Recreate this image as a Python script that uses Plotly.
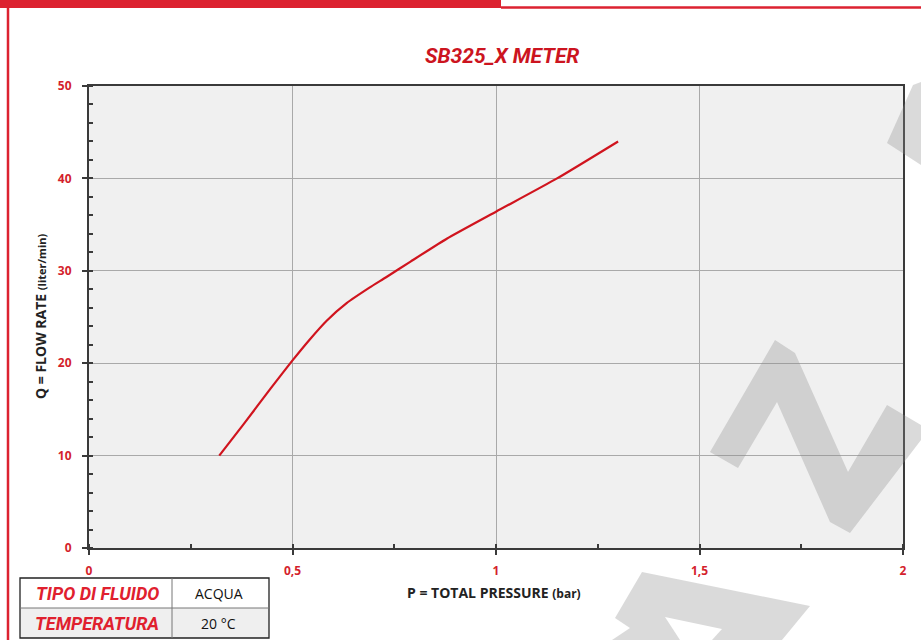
import plotly.graph_objects as go

# ---- data ----
pressure_bar = [0.32, 0.38, 0.445, 0.50, 0.543, 0.584, 0.633, 0.69, 0.73, 0.79, 0.88, 1.00, 1.15, 1.30]
flow_lpm = [10.0, 13.4, 17.2, 20.3, 22.6, 24.6, 26.5, 28.2, 29.3, 31.0, 33.5, 36.4, 40.0, 44.0]

x_tick_vals = [0, 0.5, 1, 1.5, 2]
x_tick_text = ["0", "0,5", "1", "1,5", "2"]
y_tick_vals = [0, 10, 20, 30, 40, 50]
y_tick_text = ["0", "10", "20", "30", "40", "50"]

table_labels = ["TIPO DI FLUIDO", "TEMPERATURA"]
table_values = ["ACQUA", "20 °C"]

W, H = 921, 640
L, R, T, B = 89, 903, 86, 548
RED = "#d41f2d"

def px(x):
    return (x - L) / (R - L)

def py(y):
    return (B - y) / (B - T)

fig = go.Figure()
fig.add_trace(go.Scatter(
    x=pressure_bar, y=flow_lpm, mode="lines",
    line=dict(color="#d0141e", width=2.2, shape="spline", smoothing=0.5),
    showlegend=False, hoverinfo="skip"))

axis_common = dict(showline=True, linecolor="#3a3a3a", linewidth=2, mirror=True,
                   showgrid=True, gridcolor="#a9a9a9", gridwidth=1, zeroline=False,
                   ticks="outside", ticklen=5, tickwidth=1.5, tickcolor="#3a3a3a",
                   tickfont=dict(family="Open Sans", size=12, color=RED, weight="bold"))

fig.update_xaxes(range=[0, 2], tickvals=x_tick_vals, ticktext=x_tick_text,
                 ticklabelstandoff=6,
                 minor=dict(dtick=0.25, ticks="inside", ticklen=4, tickcolor="#3a3a3a", showgrid=False),
                 **axis_common)
fig.update_yaxes(range=[0, 50], tickvals=y_tick_vals, ticktext=y_tick_text,
                 ticklabelstandoff=8,
                 minor=dict(dtick=2, ticks="inside", ticklen=4, tickcolor="#3a3a3a", showgrid=False),
                 **axis_common)

shapes = []
# page frame: thick red bar top-left, thin red line top-right, red left border
shapes.append(dict(type="rect", xref="paper", yref="paper", x0=px(0), x1=px(501), y0=py(0), y1=py(8),
                   fillcolor="#dc2230", line=dict(width=0), layer="above"))
shapes.append(dict(type="line", xref="paper", yref="paper", x0=px(501), x1=px(921), y0=py(7.5), y1=py(7.5),
                   line=dict(color="#dc2230", width=2.5), layer="above"))
shapes.append(dict(type="line", xref="paper", yref="paper", x0=px(8), x1=px(8), y0=py(7), y1=py(640),
                   line=dict(color="#dc2230", width=2.5), layer="above"))

# watermark shapes
def poly(points):
    return "M " + " L ".join(f"{px(a):.5f},{py(b):.5f}" for a, b in points) + " Z"

wm = "rgba(140,140,140,0.32)"
wm_polys = [
    [(710, 452), (775, 340), (795, 353), (848, 472), (887, 405), (921, 425), (921, 440),
     (850, 533), (830, 522), (777, 402), (738, 468)],
    [(887, 143), (913, 85), (921, 82), (921, 165)],
    [(642, 572), (810, 606), (782, 640), (612, 640), (630, 628), (615, 618)],
]
for p in wm_polys:
    shapes.append(dict(type="path", xref="paper", yref="paper", path=poly(p),
                       fillcolor=wm, line=dict(width=0), layer="above"))
shapes.append(dict(type="path", xref="paper", yref="paper",
                   path=poly([(665, 617), (722, 629), (712, 640), (680, 640)]),
                   fillcolor="white", line=dict(width=0), layer="above"))

# table
tx0, tx1, tmid = 20, 269, 172
ty0, ty1, ty2 = 578, 608, 638
shapes.append(dict(type="rect", xref="paper", yref="paper", x0=px(tx0), x1=px(tx1), y0=py(ty1), y1=py(ty2),
                   fillcolor="#efefef", line=dict(width=0), layer="above"))
shapes.append(dict(type="rect", xref="paper", yref="paper", x0=px(tx0), x1=px(tx1), y0=py(ty0), y1=py(ty1),
                   fillcolor="white", line=dict(width=0), layer="above"))
shapes.append(dict(type="rect", xref="paper", yref="paper", x0=px(tx0), x1=px(tx1), y0=py(ty0), y1=py(ty2),
                   line=dict(color="#222", width=1.3), layer="above"))
shapes.append(dict(type="line", xref="paper", yref="paper", x0=px(tx0), x1=px(tx1), y0=py(ty1), y1=py(ty1),
                   line=dict(color="#777", width=1), layer="above"))
shapes.append(dict(type="line", xref="paper", yref="paper", x0=px(tmid), x1=px(tmid), y0=py(ty0), y1=py(ty2),
                   line=dict(color="#777", width=1), layer="above"))

def ann(x, y, text, font, **kw):
    d = dict(xref="paper", yref="paper", x=px(x), y=py(y), showarrow=False, text=text,
             xanchor="center", yanchor="middle", font=font)
    d.update(kw)
    return d

annotations = [
    ann(502, 56, "<b><i>SB325_X METER</i></b>", dict(family="Roboto", size=21, color="#cc1420")),
    ann(40, 317, "<b>Q = FLOW RATE <span style='font-size:11px'>(liter/min)</span></b>",
        dict(family="Open Sans", size=14, color="#222"), textangle=-90),
    ann(494, 592, "<b>P = TOTAL PRESSURE <span style='font-size:12px'>(bar)</span></b>",
        dict(family="Open Sans", size=14, color="#222")),
]
row_y = [(ty0 + ty1) / 2, (ty1 + ty2) / 2]
for lab, val, yy in zip(table_labels, table_values, row_y):
    annotations.append(ann((tx0 + tmid) / 2 + 1, yy, f"<b><i>{lab}</i></b>",
                           dict(family="Roboto", size=18, color="#e0202e")))
    annotations.append(ann((tmid + tx1) / 2 - 2, yy, val,
                           dict(family="Open Sans", size=14, color="#111")))

fig.update_layout(width=W, height=H, margin=dict(l=L, r=W - R, t=T, b=H - B),
                  paper_bgcolor="white", plot_bgcolor="#f0f0f0",
                  shapes=shapes, annotations=annotations, showlegend=False)

fig.write_html("out.html", config={"displayModeBar": False},
               post_script="document.body.style.margin='0';document.body.style.overflow='hidden';")
